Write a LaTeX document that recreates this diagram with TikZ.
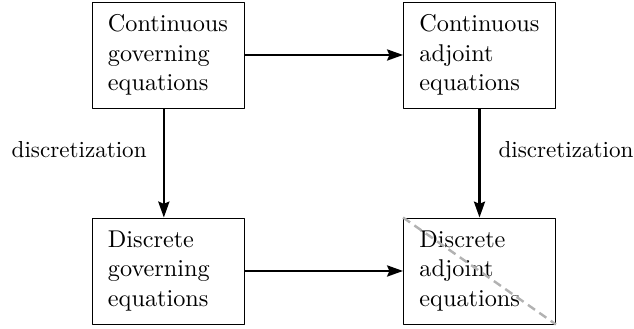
\documentclass[tikz,border=0pt]{standalone}
\usepackage{tikz}
\usetikzlibrary{arrows.meta}

\begin{document}
\begin{tikzpicture}[line join=round,>={Stealth[length=6.9pt,width=4.8pt,inset=1pt]},x=0.433pt,y=0.433pt,
  eqbox/.style={draw,rectangle,align=left,text width=52pt,inner xsep=6.9pt,minimum height=45.9pt,
    font=\fontsize{10.5}{12.8}\selectfont},
  flow/.style={->,line width=1.05pt}]
\useasboundingbox (0,0) rectangle (634,329);
\node [eqbox] (cge) at (168,274) {Continuous\\governing\\equations};
\node [eqbox] (cae) at (479.5,274) {Continuous\\adjoint\\equations};
\node [eqbox] (dge) at (168,58) {Discrete\\governing\\equations};
\node [eqbox] (dae) at (479.5,58) {Discrete\\adjoint\\equations};
\draw [flow] (cge) -- (cae);
\draw [flow] (dge) -- (dae);
\draw [flow] ([xshift=-1.8pt]cge.south) -- node [pos=0.38,left,xshift=-3.6pt] {discretization} ([xshift=-1.8pt]dge.north);
\draw [flow] (cae) -- node [pos=0.38,right,xshift=4.4pt] {discretization} (dae);
\draw [gray!60,line width=1.05pt,dash pattern=on 3.7pt off 2.3pt] (dae.north west) -- (dae.south east);
\end{tikzpicture}
\end{document}
